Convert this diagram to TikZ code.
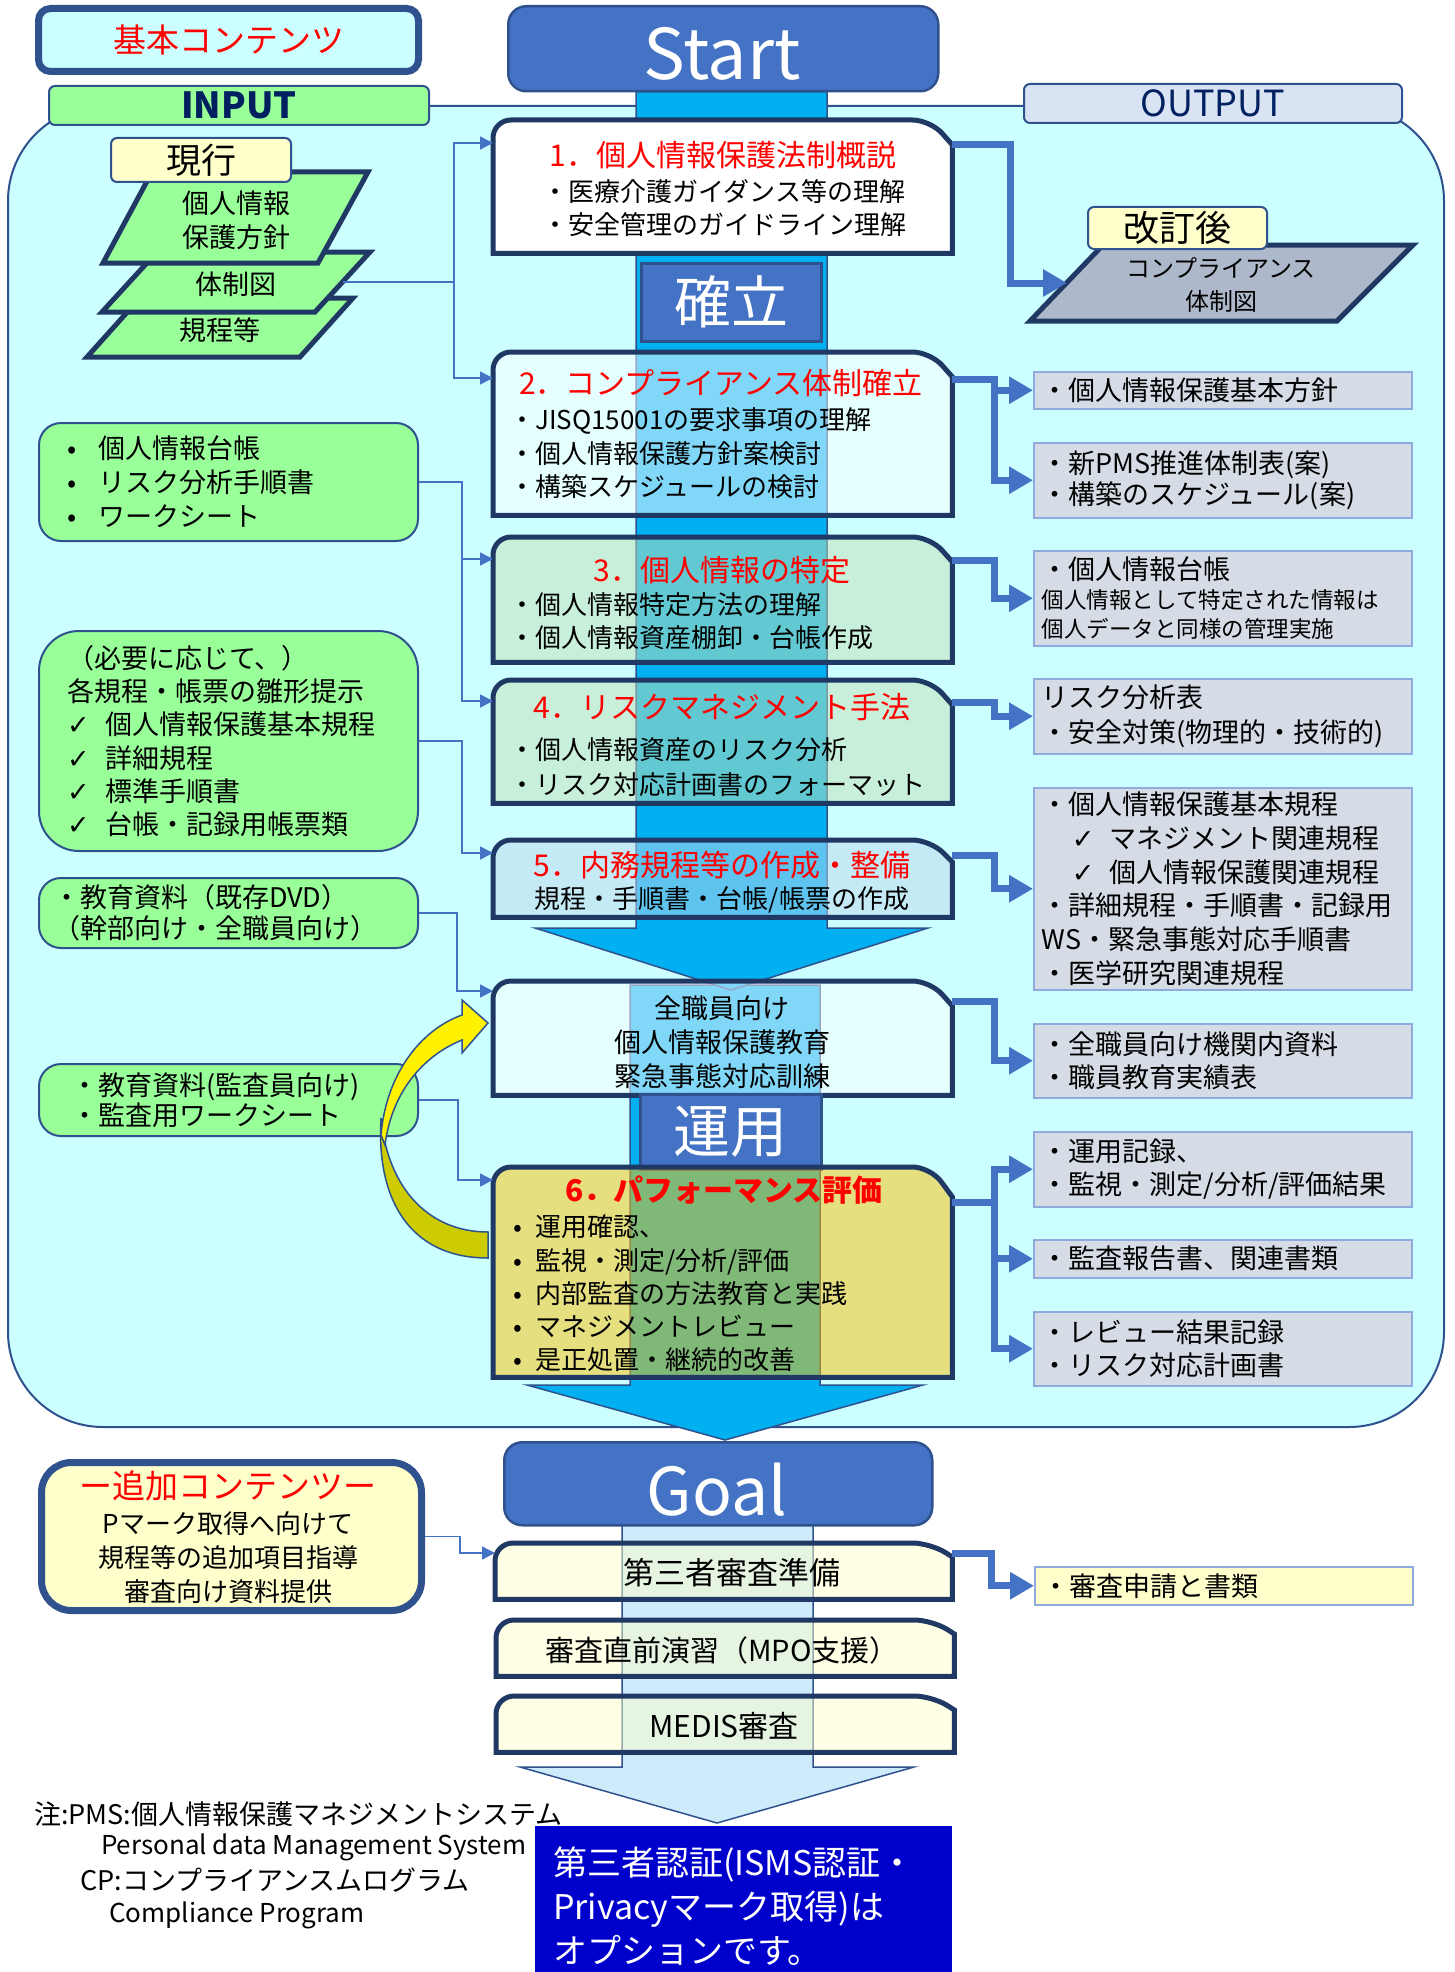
\documentclass[tikz,border=0pt]{standalone}
\usepackage{fontspec}
\setmainfont{Noto Sans CJK JP}
\newfontfamily\checkfont{DejaVu Sans}
\usetikzlibrary{arrows.meta,calc,positioning}

\definecolor{regionfill}{HTML}{CCFFFF}
\definecolor{darknavy}{HTML}{203864}
\definecolor{rimblue}{HTML}{2F528F}
\definecolor{accent}{HTML}{4472C4}
\definecolor{barblue}{HTML}{00B0F0}
\definecolor{barpale}{HTML}{CDEBFA}
\definecolor{inputgreen}{HTML}{99FF99}
\definecolor{outgray}{HTML}{D6DCE5}
\definecolor{outedge}{HTML}{8FAADC}
\definecolor{tabgray}{HTML}{DAE3F3}
\definecolor{paleyellow}{HTML}{FFFFCC}
\definecolor{slate}{HTML}{ADB9CA}
\definecolor{titlenavy}{HTML}{002060}
\definecolor{stepgreen}{HTML}{C5E0B4}
\definecolor{stepblue}{HTML}{BDD7EE}
\definecolor{stepgold}{HTML}{FFC000}
\definecolor{optionblue}{HTML}{0000CC}
\definecolor{curlback}{HTML}{CCCC00}

\newcommand{\sz}[2]{\fontsize{#1}{#2}\selectfont}
\newcommand{\chk}{\makebox[38pt][l]{\checkfont ✓}}
\newcommand{\stepframe}[3][25]{%
  \draw[boxrim,#3] (#2.south west) [rounded corners=18pt] |- ($(#2.north east)+(-22,0)$)
    [sharp corners] -- ($(#2.north east)+(0,#1)$) -- (#2.south east) -- cycle;}

\begin{document}
\begin{tikzpicture}[x=1pt,y=-1pt,
  every node/.style={inner sep=0pt},
  boxrim/.style={draw=darknavy,line width=5pt},
  stepnode/.style={anchor=north west,minimum width=459pt,minimum height=#1},
  steptitle/.style={text=red,font={\sz{30}{36}}},
  stepbody/.style={font={\sz{26}{33}},align=left,anchor=west},
  bluebox/.style={draw=rimblue,line width=2.5pt,fill=accent,text=white,rounded corners=18pt},
  tabbox/.style={draw=rimblue,line width=2pt,rounded corners=6pt,anchor=north west},
  greenbox/.style={draw=rimblue,line width=2pt,fill=inputgreen,rounded corners=22pt,anchor=north west,
    minimum width=379pt,align=left,font={\sz{27}{34}}},
  outbox/.style={draw=outedge,line width=1.5pt,fill=outgray,anchor=north west,minimum width=378pt,
    text width=362pt,inner xsep=8pt,align=left,font={\sz{27}{33}}},
  feed/.style={draw=accent,line width=1.5pt,-{Triangle[length=13pt,width=13pt]}},
  outarrow/.style={draw=accent,line width=7pt,-{Triangle[length=24pt,width=26pt]}},
  flowbar/.style={draw=rimblue,line width=1.5pt}
]
\useasboundingbox (0,0) rectangle (1454,1972);
\fill[white] (0,0) rectangle (1454,1972);

% main area and headings
\draw[draw=rimblue,line width=2pt,fill=regionfill,rounded corners=95pt] (8,106) rectangle (1444,1427);
\node[tabbox,fill=inputgreen,minimum width=380pt,minimum height=39pt,text=titlenavy,font={\sz{36}{40}\bfseries}] (intab) at (48,85) {INPUT};
\node[tabbox,fill=tabgray,minimum width=378pt,minimum height=39pt,text=titlenavy,font={\sz{36}{40}}] (outtab) at (1023,83) {OUTPUT};
\node[anchor=north west,draw=rimblue,line width=7pt,fill=regionfill,rounded corners=12pt,minimum width=380pt,
  minimum height=63pt,text=red,font={\sz{33}{38}}] (basic) at (35,5) {基本コンテンツ};
\node[bluebox,anchor=north west,minimum width=430pt,minimum height=85pt] (start) at (507,5) {};
\node[text=white,font={\sz{70}{74}}] (startlbl) at (722,54) {Start};

% flow bars
\draw[flowbar,fill=barblue] (630,985) -- (820,985) -- (820,1385) -- (923,1385) -- (725,1440) -- (527,1385) -- (630,1385) -- cycle;
\draw[flowbar,fill=barblue] (636,92) -- (827,92) -- (827,928) -- (928,928) -- (731,990) -- (535,928) -- (636,928) -- cycle;
\draw[flowbar,fill=barpale] (622,1500) -- (813,1500) -- (813,1767) -- (914,1767) -- (717,1823) -- (520,1767) -- (622,1767) -- cycle;

% current documents
\draw[boxrim,fill=inputgreen] (140,298) -- (353,298) -- (300,357) -- (87,357) -- cycle;
\draw[boxrim,fill=inputgreen] (157,252) -- (370,252) -- (315,312) -- (102,312) -- cycle;
\draw[boxrim,fill=inputgreen] (152,172) -- (368,172) -- (318,263) -- (103,263) -- cycle;
\coordinate (p2e) at (343,282);
\node[font={\sz{27}{34}},align=center] (pol) at (236,220) {個人情報\\保護方針};
\node[font={\sz{27}{34}}] (org) at (236,284) {体制図};
\node[font={\sz{27}{34}}] (rule) at (220,330) {規程等};
\node[tabbox,fill=paleyellow,minimum width=180pt,minimum height=44pt,font={\sz{35}{40}}] (now) at (110,137) {現行};

% revised chart
\draw[boxrim,fill=slate] (1103,245) -- (1413,245) -- (1337,321) -- (1030,321) -- cycle;
\coordinate (pout) at (1067,283);
\node[font={\sz{24}{33}},align=center] (newchart) at (1221,285) {コンプライアンス\\体制図};
\node[tabbox,fill=paleyellow,minimum width=179pt,minimum height=42pt,font={\sz{36}{40}}] (revised) at (1087,206) {改訂後};

% steps
\node[stepnode=133pt] (s1) at (493,120) {};
\stepframe{s1}{fill=white}
\node[bluebox,anchor=north west,sharp corners,minimum width=180pt,minimum height=78pt,font={\sz{57}{60}}] (est) at (640,262) {確立};
\node[stepnode=163pt] (s2) at (493,352) {};
\stepframe{s2}{fill=white,fill opacity=.5}
\node[stepnode=125pt] (s3) at (493,537) {};
\stepframe{s3}{fill=stepgreen,fill opacity=.5}
\node[stepnode=123pt] (s4) at (493,680) {};
\stepframe{s4}{fill=stepgreen,fill opacity=.5}
\node[stepnode=77pt] (s5) at (493,840) {};
\stepframe[22]{s5}{fill=stepblue,fill opacity=.5}
\node[stepnode=114pt] (sEdu) at (493,981) {};
\stepframe{sEdu}{fill=white,fill opacity=.5}
\node[bluebox,anchor=north west,sharp corners,minimum width=181pt,minimum height=75pt,font={\sz{57}{60}}] (ops) at (639,1093) {運用};
\node[stepnode=210pt] (s6) at (493,1167) {};
\stepframe[30]{s6}{fill=stepgold,fill opacity=.5}

\node[steptitle] (s1h) at (723,155) {1．個人情報保護法制概説};
\node[stepbody,align=center,anchor=center] (s1b) at (724,208.5) {・医療介護ガイダンス等の理解\\・安全管理のガイドライン理解};
\node[steptitle] (s2h) at (721,383) {2．コンプライアンス体制確立};
\node[stepbody,font={\sz{26}{33.5}}] (s2b) at (509,453.5) {・JISQ15001の要求事項の理解\\・個人情報保護方針案検討\\・構築スケジュールの検討};
\node[steptitle] (s3h) at (722,570) {3．個人情報の特定};
\node[stepbody] (s3b) at (509,621.5) {・個人情報特定方法の理解\\・個人情報資産棚卸・台帳作成};
\node[steptitle] (s4h) at (722,707) {4．リスクマネジメント手法};
\node[stepbody,font={\sz{26}{35}}] (s4b) at (509,767.5) {・個人情報資産のリスク分析\\・リスク対応計画書のフォーマット};
\node[steptitle] (s5h) at (722,865) {5．内務規程等の作成・整備};
\node[stepbody,anchor=center] (s5b) at (722,900) {規程・手順書・台帳/帳票の作成};
\node[stepbody,align=center,anchor=center,font={\sz{27}{34}}] (sEdub) at (722,1042) {全職員向け\\個人情報保護教育\\緊急事態対応訓練};
\node[steptitle,font={\sz{30}{36}\bfseries}] (s6h) at (724,1190) {6．パフォーマンス評価};
\node[stepbody,font={\sz{26}{33.3}}] (s6b) at (513,1293.5) {\makebox[22pt][l]{•}運用確認、\\\makebox[22pt][l]{•}監視・測定/分析/評価\\\makebox[22pt][l]{•}内部監査の方法教育と実践\\\makebox[22pt][l]{•}マネジメントレビュー\\\makebox[22pt][l]{•}是正処置・継続的改善};

% input materials
\node[greenbox,minimum height=118pt,inner xsep=28pt,text width=323pt] (L1) at (38,422) {\makebox[32pt][l]{•}個人情報台帳\\\makebox[32pt][l]{•}リスク分析手順書\\\makebox[32pt][l]{•}ワークシート};
\node[greenbox,minimum height=220pt,rounded corners=40pt,inner xsep=28pt,text width=323pt,font={\sz{27}{33.2}}] (L2) at (38,630) {（必要に応じて、）\\各規程・帳票の雛形提示\\\chk 個人情報保護基本規程\\\chk 詳細規程\\\chk 標準手順書\\\chk 台帳・記録用帳票類};
\node[greenbox,minimum height=70pt,inner xsep=14pt,text width=351pt,font={\sz{27}{31}}] (L3) at (38,877) {・教育資料（既存DVD）\\（幹部向け・全職員向け）};
\node[greenbox,minimum height=72pt,inner xsep=32pt,text width=315pt,font={\sz{27}{30}}] (L4) at (38,1063) {・教育資料(監査員向け)\\・監査用ワークシート};

% outputs
\node[outbox,minimum height=37pt] (oA) at (1033,371) {・個人情報保護基本方針};
\node[outbox,minimum height=75pt,font={\sz{27}{31}}] (oB) at (1033,442) {・新PMS推進体制表(案)\\・構築のスケジュール(案)};
\node[outbox,minimum height=95pt,font={\sz{27}{29}}] (oC) at (1033,550) {・個人情報台帳\\\sz{22.5}{29}個人情報として特定された情報は\\個人データと同様の管理実施};
\node[outbox,minimum height=75pt,font={\sz{27}{35}}] (oD) at (1033,678) {リスク分析表\\・安全対策(物理的・技術的)};
\node[outbox,minimum height=202pt,font={\sz{27}{33.8}}] (oE) at (1033,787) {・個人情報保護基本規程\\\hspace*{30pt}\chk マネジメント関連規程\\\hspace*{30pt}\chk 個人情報保護関連規程\\・詳細規程・手順書・記録用\\WS・緊急事態対応手順書\\・医学研究関連規程};
\node[outbox,minimum height=74pt] (oF) at (1033,1023) {・全職員向け機関内資料\\・職員教育実績表};
\node[outbox,minimum height=75pt] (oG) at (1033,1131) {・運用記録、\\・監視・測定/分析/評価結果};
\node[outbox,minimum height=38pt] (oH) at (1033,1239) {・監査報告書、関連書類};
\node[outbox,minimum height=74pt] (oI) at (1033,1311) {・レビュー結果記録\\・リスク対応計画書};

% inputs into steps
\draw[feed] (p2e) -- ++(111,0) |- ($(s1.north west)+(0,23)$);
\draw[feed] (p2e) -- ++(111,0) |- ($(s2.north west)+(0,26)$);
\draw[feed] (L1.east) -- ++(43,0) |- ($(s3.north west)+(0,22)$);
\draw[feed] (L1.east) -- ++(43,0) |- ($(s4.north west)+(0,21)$);
\draw[feed] (L2.east) -- ++(43,0) |- ($(s5.north west)+(0,13)$);
\draw[feed] (L3.east) -- ++(38,0) |- ($(sEdu.north west)+(0,10)$);
\draw[feed] (L4.east) -- ++(39,0) |- ($(s6.north west)+(0,13)$);

% steps into outputs
\draw[outarrow] ($(s1.north east)+(0,25)$) -- ++(58,0) |- (pout);
\draw[outarrow] ($(s2.north east)+(0,27)$) -- ++(42,0) |- (oA.west);
\draw[outarrow] ($(s2.north east)+(0,27)$) -- ++(42,0) |- (oB.west);
\draw[outarrow] ($(s3.north east)+(0,23)$) -- ++(42,0) |- (oC.west);
\draw[outarrow] ($(s4.north east)+(0,22)$) -- ++(42,0) |- (oD.west);
\draw[outarrow] ($(s5.north east)+(0,15)$) -- ++(42,0) |- (oE.west);
\draw[outarrow] ($(sEdu.north east)+(0,20)$) -- ++(42,0) |- (oF.west);
\draw[outarrow] ($(s6.north east)+(0,35)$) -- ++(42,0) |- (oG.west);
\draw[outarrow] ($(s6.north east)+(0,35)$) -- ++(42,0) |- (oH.west);
\draw[outarrow] ($(s6.north east)+(0,35)$) -- ++(42,0) |- (oI.west);

% feedback curl
\draw[draw=rimblue,line width=1.5pt,fill=curlback] (488,1258) .. controls (410,1258) and (376,1200) .. (381,1118)
  .. controls (388,1190) and (430,1232) .. (488,1232) -- cycle;
\draw[draw=rimblue,line width=1.5pt,fill=yellow] (381,1135) .. controls (386,1075) and (420,1030) .. (462,1015)
  -- (462,1000) -- (488,1023) -- (462,1053) -- (462,1040) .. controls (425,1055) and (392,1090) .. (385,1145) -- cycle;

% goal part
\node[bluebox,anchor=north west,minimum width=428pt,minimum height=83pt] (goal) at (503,1441) {};
\node[text=white,font={\sz{66}{70}}] (goallbl) at (717,1490) {Goal};
\node[stepnode=56pt,minimum width=457pt] (g1) at (495,1543) {};
\stepframe[14]{g1}{fill=paleyellow,fill opacity=.5}
\node[stepnode=56pt,minimum width=458pt] (g2) at (496,1620) {};
\stepframe[14]{g2}{fill=paleyellow,fill opacity=.5}
\node[stepnode=56pt,minimum width=458pt] (g3) at (496,1696) {};
\stepframe[14]{g3}{fill=paleyellow,fill opacity=.5}
\node[font={\sz{31}{36}}] (g1t) at (732,1573) {第三者審査準備};
\node[font={\sz{29}{34}}] (g2t) at (722,1650) {審査直前演習（MPO支援）};
\node[font={\sz{30}{34}}] (g3t) at (724,1726) {MEDIS審査};
\node[outbox,fill=paleyellow,minimum height=38pt] (oJ) at (1034,1566) {・審査申請と書類};
\draw[outarrow] ($(g1.north east)+(0,10)$) -- ++(39,0) |- (oJ.west);

\node[anchor=north west,draw=rimblue,line width=7pt,fill=paleyellow,rounded corners=30pt,minimum width=380pt,
  minimum height=148pt] (addc) at (38,1459) {};
\node[text=red,font={\sz{33}{38}}] (addh) at (228,1486) {ー追加コンテンツー};
\node[font={\sz{26}{34}},align=center] (addb) at (228,1558) {Pマーク取得へ向けて\\規程等の追加項目指導\\審査向け資料提供};
\draw[feed] (addc.east) -- ++(35,0) |- ($(g1.north west)+(0,10)$);

% notes
\node[anchor=west,font={\sz{27}{30}}] (note1) at (34,1814) {注:PMS:個人情報保護マネジメントシステム};
\node[anchor=west,font={\sz{26}{30}}] (note2) at (101,1847) {Personal data Management System};
\node[anchor=west,font={\sz{27}{30}}] (note3) at (80,1880) {CP:コンプライアンスムログラム};
\node[anchor=west,font={\sz{26}{30}}] (note4) at (109,1915) {Compliance Program};

\node[anchor=north west,fill=optionblue,minimum width=417pt,minimum height=146pt] (opt) at (535,1826) {};
\node[anchor=west,align=left,text=white,font={\sz{34}{44}}] (optlbl) at (553,1906) {第三者認証(ISMS認証・\\Privacyマーク取得)は\\オプションです。};
\end{tikzpicture}
\end{document}
